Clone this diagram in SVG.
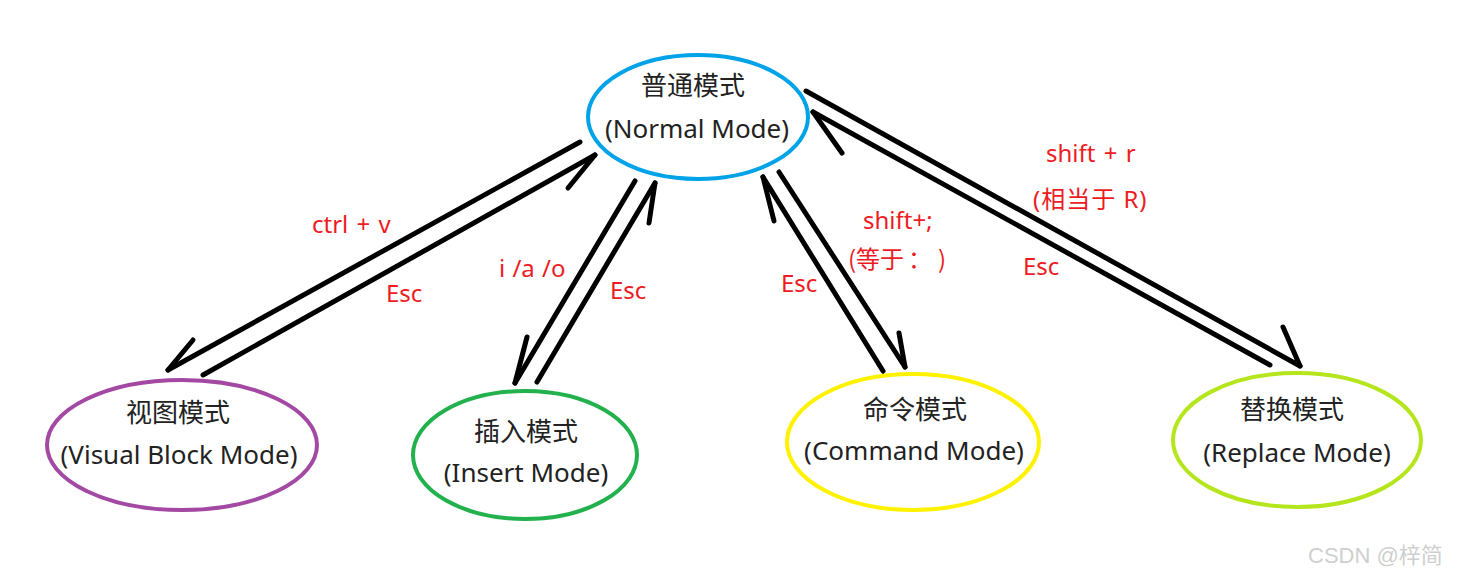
<svg xmlns="http://www.w3.org/2000/svg" width="1474" height="583" viewBox="0 0 1474 583">
<style>
.node{fill:#fff;stroke-width:4}
.t{font-family:"Noto Sans","Noto Sans CJK SC",sans-serif;font-size:26px;fill:#222;text-anchor:middle}
.l{font-family:"Noto Sans","Noto Sans CJK SC",sans-serif;font-size:24px;fill:#ED1C24}
.cjk{font-family:"Noto Sans CJK SC",sans-serif}
.c line{stroke:#000;stroke-width:5;stroke-linecap:round}
.wm{font-family:"Liberation Sans","Noto Sans CJK SC",sans-serif;font-size:22px;fill:#cfcfcf}
</style>
<rect width="1474" height="583" fill="#fff"/>
<g id="normal">
<ellipse class="node" cx="698" cy="117" rx="110" ry="62" stroke="#00A2E8"/>
<text class="t" x="693" y="95">普通模式</text>
<text class="t" x="697" y="138">(Normal Mode)</text>
</g>
<g id="visual">
<ellipse class="node" cx="182" cy="445" rx="135" ry="65" stroke="#A349A4"/>
<text class="t" x="178" y="422">视图模式</text>
<text class="t" x="179" y="464">(Visual Block Mode)</text>
</g>
<g id="insert">
<ellipse class="node" cx="525" cy="455" rx="112" ry="64" stroke="#22B14C"/>
<text class="t" x="526" y="441">插入模式</text>
<text class="t" x="526" y="482">(Insert Mode)</text>
</g>
<g id="command">
<ellipse class="node" cx="913" cy="442" rx="126" ry="68" stroke="#FFF200"/>
<text class="t" x="915" y="419">命令模式</text>
<text class="t" x="914" y="460">(Command Mode)</text>
</g>
<g id="replace">
<ellipse class="node" cx="1297" cy="440" rx="124" ry="67" stroke="#B5E61D"/>
<text class="t" x="1292" y="419">替换模式</text>
<text class="t" x="1297" y="462">(Replace Mode)</text>
</g>
<g id="connectors" class="c">
<line x1="580" y1="142" x2="168" y2="370"/><line x1="168" y1="370" x2="193" y2="340"/>
<line x1="203" y1="375" x2="595" y2="155"/><line x1="595" y1="155" x2="568" y2="188"/>
<line x1="635" y1="181" x2="515" y2="383"/><line x1="515" y1="383" x2="527" y2="337"/>
<line x1="537" y1="382" x2="655" y2="183"/><line x1="655" y1="183" x2="649" y2="223"/>
<line x1="883" y1="371" x2="763" y2="177"/><line x1="763" y1="177" x2="774" y2="221"/>
<line x1="779" y1="172" x2="905" y2="367"/><line x1="905" y1="367" x2="899" y2="333"/>
<line x1="806" y1="91" x2="1300" y2="366"/><line x1="1300" y1="366" x2="1283" y2="327"/>
<line x1="1270" y1="365" x2="813" y2="112"/><line x1="813" y1="112" x2="842" y2="153"/>
</g>
<g id="labels">
<text class="l" x="312" y="233" word-spacing="2">ctrl + v</text>
<text class="l" x="386" y="302">Esc</text>
<text class="l" x="499" y="277" word-spacing="1">i /a /o</text>
<text class="l" x="610" y="299">Esc</text>
<text class="l" x="781" y="292">Esc</text>
<text class="l" x="863" y="229">shift+;</text>
<text class="l cjk" x="848" y="268">(等于<tspan x="908">：</tspan><tspan x="938">)</tspan></text>
<text class="l" x="1046" y="162" word-spacing="2">shift + r</text>
<text class="l" x="1033" y="208" letter-spacing="1">(相当于 R)</text>
<text class="l" x="1023" y="275">Esc</text>
</g>
<text class="wm" x="1308" y="563">CSDN @梓简</text>
</svg>
